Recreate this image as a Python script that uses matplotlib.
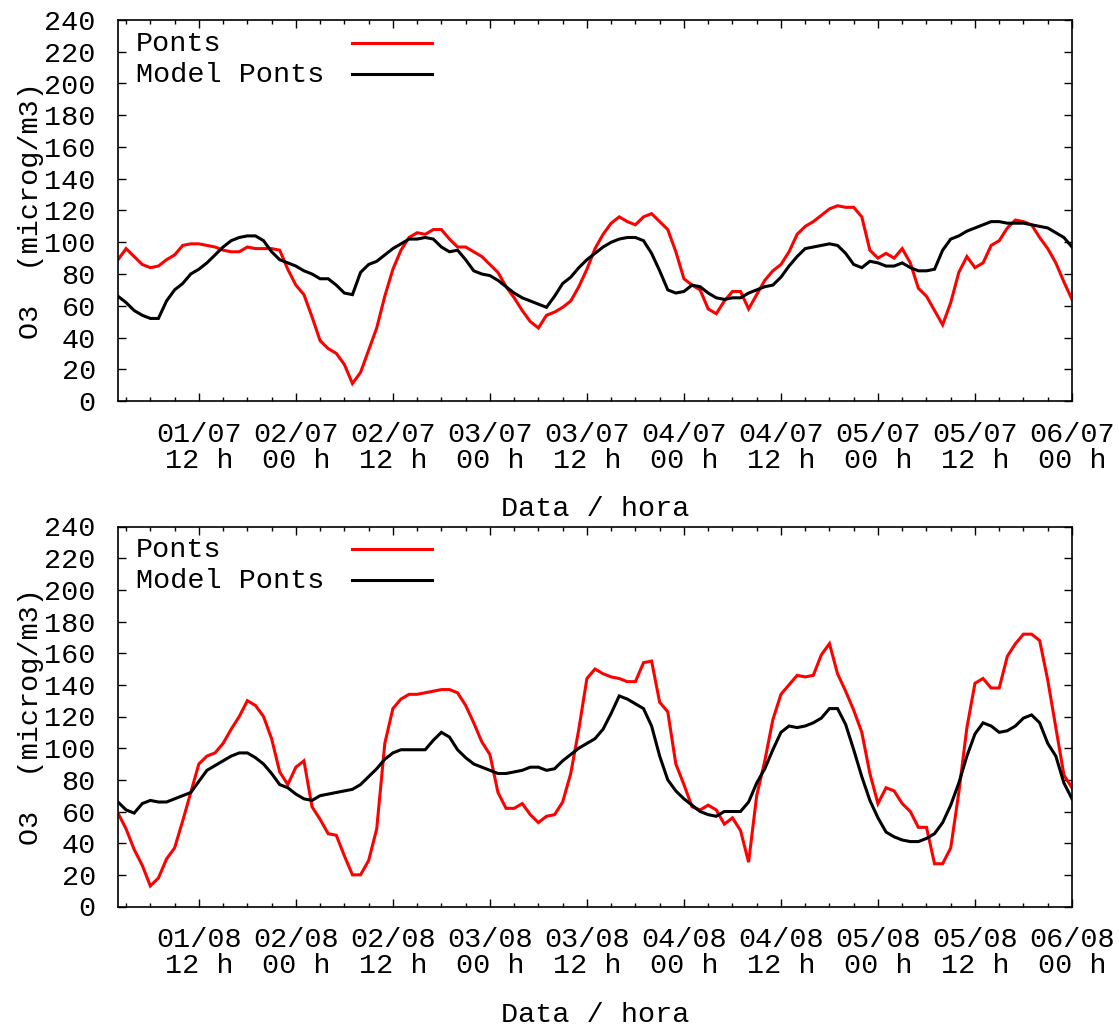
import numpy as np
import matplotlib
matplotlib.use("Agg")
import matplotlib.pyplot as plt
from matplotlib.ticker import MultipleLocator, FixedLocator

plt.rcParams['font.family'] = ['Liberation Mono', 'DejaVu Sans Mono']

# Hours counted from the start of the first day (hourly samples)
hours = np.arange(2, 121)

# July: measured ozone at Ponts and model output
ponts_jul = [
    89, 96, 91, 86, 84, 85, 89, 92, 98, 99, 99, 98, 97, 95, 94, 94, 97, 96, 96, 96,
    95, 83, 73, 67, 53, 38, 33, 30, 23, 11, 18, 32, 46, 66, 83, 95, 103, 106, 105, 108,
    108, 102, 97, 97, 94, 91, 86, 81, 72, 65, 57, 50, 46, 54, 56, 59, 63, 72, 83, 96,
    105, 112, 116, 113, 111, 116, 118, 113, 108, 94, 77, 73, 70, 58, 55, 63, 69, 69, 58, 67,
    76, 82, 86, 94, 105, 110, 113, 117, 121, 123, 122, 122, 116, 95, 90, 93, 90, 96, 87, 71,
    66, 57, 48, 62, 81, 91, 84, 87, 98, 101, 109, 114, 113, 111, 103, 96, 87, 75, 64,
]
model_jul = [
    66, 62, 57, 54, 52, 52, 63, 70, 74, 80, 83, 87, 92, 97, 101, 103, 104, 104, 101, 94,
    89, 87, 85, 82, 80, 77, 77, 73, 68, 67, 81, 86, 88, 92, 96, 99, 102, 102, 103, 102,
    97, 94, 95, 89, 82, 80, 79, 76, 72, 68, 65, 63, 61, 59, 66, 74, 78, 84, 89, 93,
    97, 100, 102, 103, 103, 101, 93, 82, 70, 68, 69, 73, 72, 68, 65, 64, 65, 65, 68, 70,
    72, 73, 78, 85, 91, 96, 97, 98, 99, 98, 93, 86, 84, 88, 87, 85, 85, 87, 84, 82,
    82, 83, 95, 102, 104, 107, 109, 111, 113, 113, 112, 112, 112, 111, 110, 109, 106, 103, 97,
]

# August: measured ozone at Ponts and model output
ponts_aug = [
    59, 49, 36, 26, 13, 18, 30, 37, 54, 72, 90, 95, 97, 103, 112, 120, 130, 127, 120, 106,
    85, 77, 88, 92, 63, 55, 46, 45, 32, 20, 20, 29, 49, 103, 125, 131, 134, 134, 135, 136,
    137, 137, 135, 127, 116, 104, 96, 72, 62, 62, 65, 58, 53, 57, 58, 66, 84, 112, 144, 150,
    147, 145, 144, 142, 142, 154, 155, 129, 123, 90, 77, 63, 61, 64, 61, 52, 56, 48, 28, 70,
    92, 118, 134, 140, 146, 145, 146, 159, 166, 147, 136, 124, 110, 84, 65, 75, 73, 65, 60, 50,
    50, 27, 27, 37, 72, 113, 141, 144, 138, 138, 158, 166, 172, 172, 168, 143, 113, 83, 75,
]
model_aug = [
    66, 61, 59, 65, 67, 66, 66, 68, 70, 72, 79, 86, 89, 92, 95, 97, 97, 94, 90, 84,
    77, 75, 71, 68, 67, 70, 71, 72, 73, 74, 77, 82, 87, 93, 97, 99, 99, 99, 99, 105,
    110, 107, 99, 94, 90, 88, 86, 84, 84, 85, 86, 88, 88, 86, 87, 92, 96, 100, 103, 106,
    112, 122, 133, 131, 128, 125, 114, 95, 80, 73, 68, 64, 60, 58, 57, 60, 60, 60, 66, 78,
    87, 99, 110, 114, 113, 114, 116, 119, 125, 125, 115, 99, 82, 67, 56, 47, 44, 42, 41, 41,
    43, 46, 53, 64, 78, 95, 109, 116, 114, 110, 111, 114, 119, 121, 116, 103, 95, 78, 68,
]

tick_hours = [12, 24, 36, 48, 60, 72, 84, 96, 108, 120]
labels_jul = ["01/07\n12 h", "02/07\n00 h", "02/07\n12 h", "03/07\n00 h", "03/07\n12 h",
              "04/07\n00 h", "04/07\n12 h", "05/07\n00 h", "05/07\n12 h", "06/07\n00 h"]
labels_aug = ["01/08\n12 h", "02/08\n00 h", "02/08\n12 h", "03/08\n00 h", "03/08\n12 h",
              "04/08\n00 h", "04/08\n12 h", "05/08\n00 h", "05/08\n12 h", "06/08\n00 h"]

FS = 20.5
W, H = 1119, 1028
fig = plt.figure(figsize=(W / 100, H / 100), dpi=100)

def panel(rect, measured, modelled, ticklabels):
    ax = fig.add_axes(rect)
    ax.plot(hours, measured, color='#ff0000', lw=2.2, solid_joinstyle='miter')
    ax.plot(hours, modelled, color='black', lw=2.2, solid_joinstyle='miter')
    ax.set_xlim(2, 120)
    ax.set_ylim(0, 240)
    ax.yaxis.set_major_locator(MultipleLocator(20))
    ax.xaxis.set_major_locator(FixedLocator(tick_hours))
    ax.xaxis.set_minor_locator(MultipleLocator(3))
    ax.set_xticklabels(ticklabels, fontsize=FS)
    for t in ax.get_xticklabels():
        t.set_linespacing(1.0)
    ax.tick_params(axis='both', which='both', direction='in', top=True, right=True,
                   colors='black', labelsize=FS, width=1.0)
    ax.tick_params(axis='x', which='major', length=5.8, pad=15)
    ax.tick_params(axis='x', which='minor', length=2.9)
    ax.tick_params(axis='y', which='major', length=5.5, pad=16)
    for s in ax.spines.values():
        s.set_linewidth(1.2)
    ax.set_xlabel("Data / hora", fontsize=FS)
    ax.xaxis.set_label_coords(0.5, -0.25)
    ax.set_ylabel("O3  (microg/m3)", fontsize=FS)
    ax.yaxis.set_label_coords(-0.078, 0.5)
    # key: label text on the left, line sample on the right
    for i, (name, col) in enumerate([("Ponts", '#ff0000'), ("Model Ponts", 'black')]):
        yk = 0.937 - i * 0.081
        ax.text(0.019, yk, name, transform=ax.transAxes, fontsize=FS,
                ha='left', va='center')
        ax.plot([0.245, 0.329], [yk + 0.003, yk + 0.003], transform=ax.transAxes,
                color=col, lw=2.2, clip_on=False)
    return ax

left = 118 / W
width = 954 / W
panel([left, 1 - 401 / H, width, 381 / H], ponts_jul, model_jul, labels_jul)
panel([left, 1 - 906.5 / H, width, 380 / H], ponts_aug, model_aug, labels_aug)

fig.savefig("out.png", dpi=100, facecolor='white')
